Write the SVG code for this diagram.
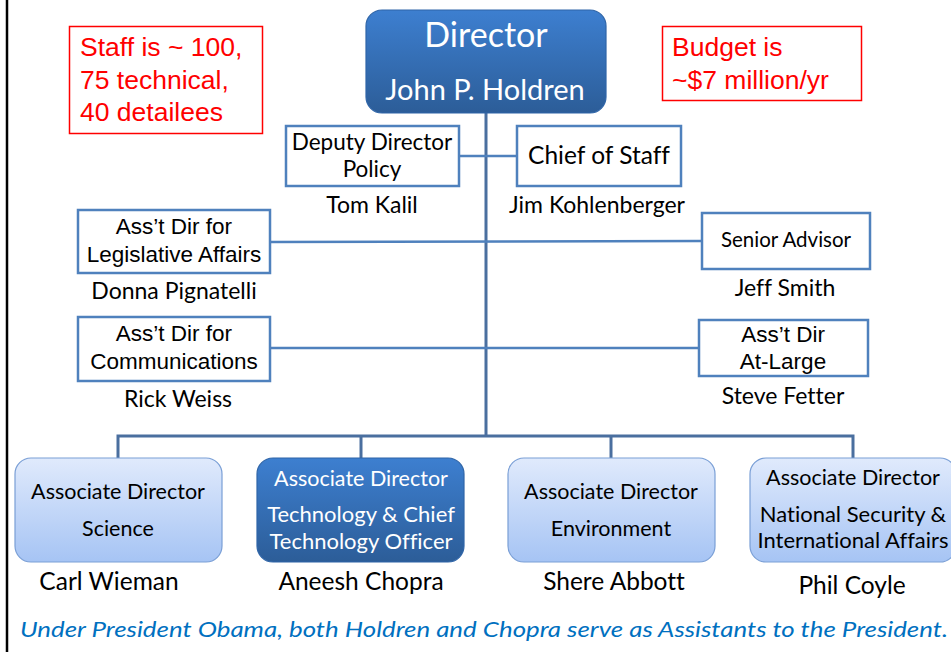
<svg xmlns="http://www.w3.org/2000/svg" width="951" height="652" viewBox="0 0 951 652">
<defs>
<linearGradient id="dark" x1="0" y1="0" x2="0" y2="1">
<stop offset="0" stop-color="#3d7fd0"/>
<stop offset="1" stop-color="#2c5d98"/>
</linearGradient>
<linearGradient id="light" x1="0" y1="0" x2="0" y2="1">
<stop offset="0" stop-color="#e0eafc"/>
<stop offset="1" stop-color="#a6c4f4"/>
</linearGradient>
</defs>
<style>
text{font-variant-ligatures:none;font-feature-settings:"liga" 0,"dlig" 0}
.c{font-family:Lato,"Open Sans","DejaVu Sans",sans-serif;text-anchor:middle;fill:#000}
.a{font-family:"Liberation Sans",Arial,sans-serif;text-anchor:middle;fill:#000;font-size:22.5px}
.r{font-family:"Liberation Sans",Arial,sans-serif;fill:#ff0000;font-size:26.5px}
.w{fill:#fff}
.box{fill:#fff;stroke:#4f81bd;stroke-width:2.5}
.red{fill:#fff;stroke:#ff0000;stroke-width:1.5}
.lt{fill:url(#light);stroke:#7a9fd6;stroke-width:1.2}
.dk{fill:url(#dark);stroke:#2f65a8;stroke-width:1.2}
.ln{fill:none;stroke:#4a6f9f;stroke-width:3}
.ln2{fill:none;stroke:#4f81bd;stroke-width:2.5}
.nm{font-size:23px}
.bn{font-size:24.5px}
.ad{font-size:21.5px}
</style>
<rect width="951" height="652" fill="#fff"/>
<line x1="7" y1="0" x2="7" y2="652" stroke="#000" stroke-width="2.5"/>

<g id="connectors">
<line class="ln" x1="486" y1="113" x2="486" y2="437"/>
<line class="ln2" x1="459" y1="156" x2="517" y2="156"/>
<line class="ln2" x1="270" y1="242" x2="702" y2="241"/>
<line class="ln2" x1="270" y1="348" x2="699" y2="348"/>
<polyline class="ln" points="118,459 118,436 853,436 853,459"/>
<line class="ln" x1="361" y1="436" x2="361" y2="459"/>
<line class="ln" x1="611" y1="436" x2="611" y2="459"/>
</g>

<g id="staff">
<rect class="red" x="69.5" y="26.5" width="193" height="107"/>
<text class="r" x="80" y="56">Staff is ~ 100,</text>
<text class="r" x="80" y="89">75 technical,</text>
<text class="r" x="80" y="121">40 detailees</text>
</g>

<g id="budget">
<rect class="red" x="662.5" y="26.5" width="199" height="74"/>
<text class="r" x="672" y="56">Budget is</text>
<text class="r" x="672" y="89">~$7 million/yr</text>
</g>

<g id="director">
<rect class="dk" x="366" y="10" width="240" height="103" rx="16"/>
<text class="c w" x="486" y="47" font-size="34">Director</text>
<text class="c w" x="485" y="100" font-size="29">John P. Holdren</text>
</g>

<g id="deputy">
<rect class="box" x="286" y="126" width="173" height="60"/>
<text class="c" x="372" y="150" font-size="22.5">Deputy Director</text>
<text class="c" x="372" y="177" font-size="22.5">Policy</text>
<text class="c nm" x="372" y="213">Tom Kalil</text>
</g>

<g id="chief">
<rect class="box" x="517" y="126" width="164" height="60"/>
<text class="c" x="599" y="164" font-size="24.5">Chief of Staff</text>
<text class="c nm" x="597" y="213">Jim Kohlenberger</text>
</g>

<g id="legislative">
<rect class="box" x="78" y="210" width="192" height="63"/>
<text class="a" x="174" y="234">Ass’t Dir for</text>
<text class="a" x="174" y="262">Legislative Affairs</text>
<text class="c nm" x="174" y="299">Donna Pignatelli</text>
</g>

<g id="senior">
<rect class="box" x="702" y="213" width="168" height="56"/>
<text class="c" x="786" y="247" font-size="20.5">Senior Advisor</text>
<text class="c nm" x="785" y="296">Jeff Smith</text>
</g>

<g id="communications">
<rect class="box" x="78" y="317" width="192" height="64"/>
<text class="a" x="174" y="341">Ass’t Dir for</text>
<text class="a" x="174" y="369">Communications</text>
<text class="c nm" x="178" y="407">Rick Weiss</text>
</g>

<g id="atlarge">
<rect class="box" x="699" y="320" width="169" height="56"/>
<text class="a" x="783" y="342">Ass’t Dir</text>
<text class="a" x="783" y="369">At-Large</text>
<text class="c nm" x="783" y="404">Steve Fetter</text>
</g>

<g id="science">
<rect class="lt" x="15" y="458" width="207" height="104" rx="16"/>
<text class="c ad" x="118" y="499">Associate Director</text>
<text class="c ad" x="118" y="536">Science</text>
<text class="c bn" x="109" y="590">Carl Wieman</text>
</g>

<g id="technology">
<rect class="dk" x="257" y="458" width="207" height="104" rx="16"/>
<text class="c w ad" x="361" y="486">Associate Director</text>
<text class="c w" x="361" y="522" font-size="22">Technology &amp; Chief</text>
<text class="c w" x="361" y="549" font-size="22">Technology Officer</text>
<text class="c bn" x="361" y="590">Aneesh Chopra</text>
</g>

<g id="environment">
<rect class="lt" x="508" y="458" width="207" height="104" rx="16"/>
<text class="c ad" x="611" y="499">Associate Director</text>
<text class="c ad" x="611" y="536">Environment</text>
<text class="c bn" x="614" y="590">Shere Abbott</text>
</g>

<g id="natsec">
<rect class="lt" x="750" y="458" width="206" height="104" rx="16"/>
<text class="c ad" x="853" y="485">Associate Director</text>
<text class="c" x="853" y="522" font-size="22">National Security &amp;</text>
<text class="c" x="853" y="548" font-size="22">International Affairs</text>
<text class="c bn" x="852" y="594">Phil Coyle</text>
</g>

<text x="20" y="637" font-family="Lato,'Open Sans',sans-serif" font-style="italic" font-size="22" fill="#0070c0" textLength="928" lengthAdjust="spacingAndGlyphs">Under President Obama, both Holdren and Chopra serve as Assistants to the President.</text>
</svg>
